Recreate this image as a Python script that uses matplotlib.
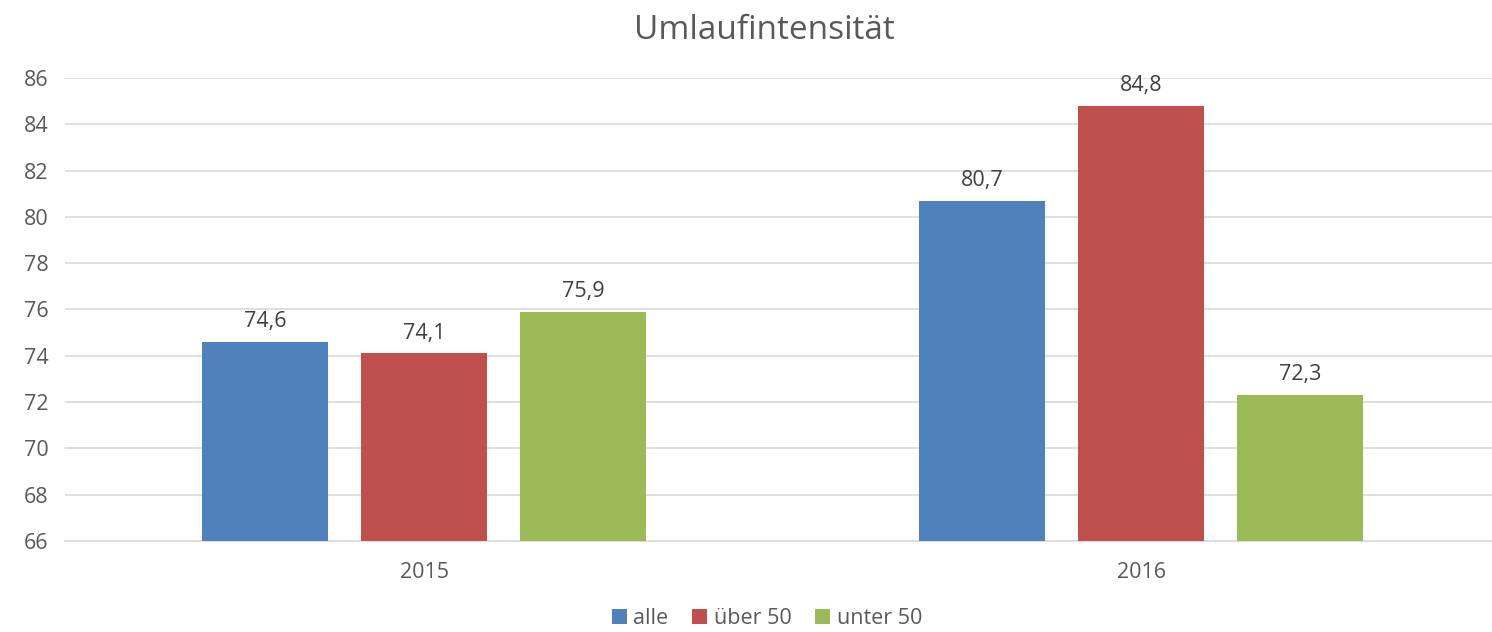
import numpy as np
import matplotlib.pyplot as plt

plt.rcParams['font.family'] = ['Open Sans', 'DejaVu Sans']

# data
years = ['2015', '2016']
series = ['alle', 'über 50', 'unter 50']
alle = [74.6, 80.7]
ueber50 = [74.1, 84.8]
unter50 = [75.9, 72.3]
colors = ['#4F81BD', '#C0504D', '#9BBB59']
text_color = '#595959'

fig = plt.figure(figsize=(14.92, 6.32), dpi=100)
ax = fig.add_axes([0.0436, 0.144, 0.9564, 0.7326])

x = np.arange(len(years))
width = 0.1757
step = 0.2218
for i, (vals, name) in enumerate(zip([alle, ueber50, unter50], series)):
    pos = x + (i - 1) * step
    ax.bar(pos, np.array(vals) - 66, width, bottom=66, color=colors[i], label=name, zorder=3)
    for p, v in zip(pos, vals):
        ax.annotate(f'{v:.1f}'.replace('.', ','), (p, v), xytext=(0, 7), textcoords='offset points',
                    ha='center', va='bottom', fontsize=15.5, color='#404040')

ax.set_ylim(66, 86)
ax.set_yticks(range(66, 87, 2))
ax.set_xlim(-0.5007, 1.4895)
ax.set_xticks(x)
ax.set_xticklabels(years)
ax.grid(axis='y', color='#D9D9D9', linewidth=1.2, zorder=0)
for s in ['top', 'right', 'left']:
    ax.spines[s].set_visible(False)
ax.spines['bottom'].set_color('#D9D9D9')
ax.spines['bottom'].set_linewidth(1.2)
ax.tick_params(axis='both', length=0, labelsize=15.5, colors=text_color)
ax.tick_params(axis='y', pad=12)
ax.tick_params(axis='x', pad=15)

fig.suptitle('Umlaufintensität', fontsize=24, color=text_color, x=0.512, y=0.978)
fig.legend(loc='lower center', bbox_to_anchor=(0.514, -0.026), ncol=3, frameon=False,
           fontsize=15.5, labelcolor=text_color, handlelength=0.7, handleheight=0.7,
           handletextpad=0.3, columnspacing=1.1)

plt.savefig('out.png', dpi=100)
